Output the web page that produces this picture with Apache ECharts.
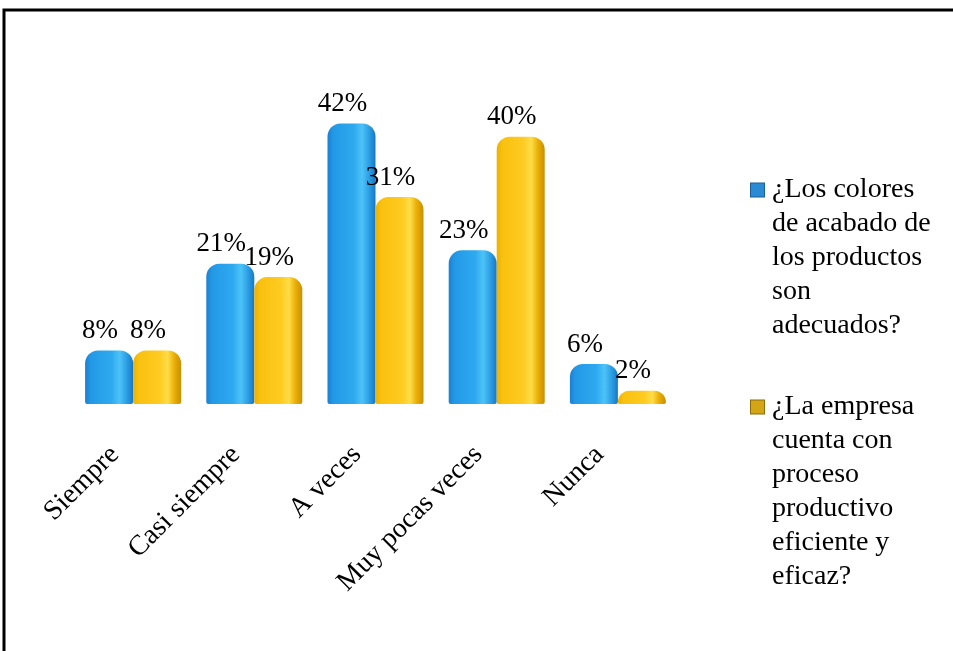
<!DOCTYPE html>
<html>
<head>
<meta charset="utf-8">
<script src="https://cdn.jsdelivr.net/npm/echarts@6/dist/echarts.min.js"></script>
<style>
  html, body { margin: 0; padding: 0; background: #ffffff; }
  #chart { width: 953px; height: 651px; }
</style>
</head>
<body>
<div id="chart"></div>
<script>
// Survey answer categories (x axis)
const categories = ['Siempre', 'Casi siempre', 'A veces', 'Muy pocas veces', 'Nunca'];

// Series names
const nameColores = '¿Los colores de acabado de los productos son adecuados?';
const nameEmpresa = '¿La empresa cuenta con proceso productivo eficiente y eficaz?';

// Percentages per answer
const valuesColores = [8, 21, 42, 23, 6];
const valuesEmpresa = [8, 19, 31, 40, 2];

// Legend text, broken into the lines shown beside the plot
const legendLinesColores = ['¿Los colores', 'de acabado de', 'los productos', 'son', 'adecuados?'];
const legendLinesEmpresa = ['¿La empresa', 'cuenta con', 'proceso', 'productivo', 'eficiente y', 'eficaz?'];

const serifFont = '"Liberation Serif", "Times New Roman", serif';

function hGradient(stops) {
  return new echarts.graphic.LinearGradient(0, 0, 1, 0,
    stops.map(s => ({ offset: s[0], color: s[1] })));
}

const blueFill = hGradient([
  [0, '#1a80d2'], [0.12, '#2399e6'], [0.55, '#2ea9ef'],
  [0.72, '#4cc3f7'], [0.88, '#2a9be3'], [1, '#1877c2']
]);
const yellowFill = hGradient([
  [0, '#eeb000'], [0.12, '#f9c10f'], [0.55, '#ffcb22'],
  [0.72, '#ffdd48'], [0.86, '#e9ae06'], [1, '#c98f00']
]);

const legendLines = {};
legendLines[nameColores] = { lines: legendLinesColores, icon: 'icB' };
legendLines[nameEmpresa] = { lines: legendLinesEmpresa, icon: 'icY' };

const valueLabel = {
  show: true,
  position: 'top',
  distance: 6,
  offset: [-9, 0],
  formatter: '{c}%',
  fontFamily: serifFont,
  fontSize: 27,
  color: '#000'
};

const chart = echarts.init(document.getElementById('chart'), null, { renderer: 'canvas' });

chart.setOption({
  backgroundColor: '#ffffff',
  animation: false,
  graphic: [{
    type: 'rect',
    shape: { x: 4, y: 10, width: 990, height: 700 },
    style: { fill: 'none', stroke: '#000', lineWidth: 3 },
    silent: true
  }],
  grid: { left: 72.5, right: 274.5, top: 70, bottom: 247 },
  legend: {
    orient: 'vertical',
    left: 746,
    top: 173,
    padding: 0,
    itemGap: 47,
    icon: 'none',
    itemWidth: 0,
    itemHeight: 12,
    data: [nameColores, nameEmpresa],
    textStyle: {
      fontFamily: serifFont,
      fontSize: 28,
      lineHeight: 34,
      color: '#000',
      rich: {
        icB: { width: 13, height: 13, backgroundColor: '#2a8ad4', borderColor: '#1a5f9c', borderWidth: 1 },
        icY: { width: 13, height: 13, backgroundColor: '#d4a514', borderColor: '#8f6d05', borderWidth: 1 },
        gap: { width: 8 },
        sp: { width: 21 }
      }
    },
    formatter: function (name) {
      const entry = legendLines[name];
      return entry.lines.map(function (line, i) {
        return (i === 0 ? '{' + entry.icon + '|}{gap|}' : '{sp|}') + line;
      }).join('\n');
    }
  },
  xAxis: {
    type: 'category',
    data: categories,
    axisLine: { show: false },
    axisTick: { show: false },
    axisLabel: {
      interval: 0,
      rotate: 45,
      margin: 28,
      padding: [0, 26, 0, 0],
      fontFamily: serifFont,
      fontSize: 28,
      color: '#000'
    }
  },
  yAxis: {
    type: 'value',
    min: 0,
    max: 50,
    show: false,
    splitLine: { show: false }
  },
  series: [
    {
      name: nameColores,
      type: 'bar',
      data: valuesColores,
      barWidth: 48,
      barGap: '0%',
      itemStyle: { color: blueFill, borderRadius: [13, 13, 2, 2] },
      label: valueLabel
    },
    {
      name: nameEmpresa,
      type: 'bar',
      data: valuesEmpresa,
      barWidth: 48,
      itemStyle: { color: yellowFill, borderRadius: [13, 13, 2, 2] },
      label: valueLabel
    }
  ]
});
</script>
</body>
</html>
